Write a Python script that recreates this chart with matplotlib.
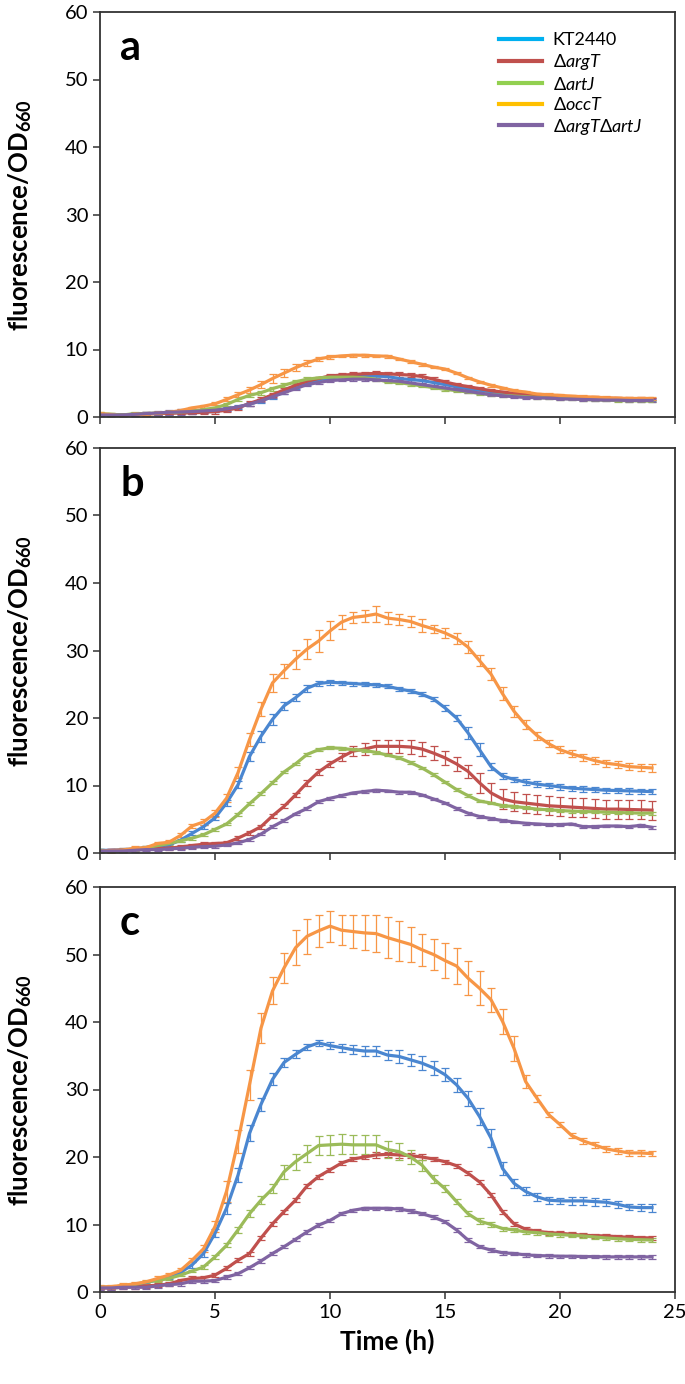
"""Fluorescence/OD660 time courses for KT2440 and transporter mutants (panels a-c)."""

import matplotlib
matplotlib.use("Agg")
import matplotlib.pyplot as plt
import numpy as np
from matplotlib.lines import Line2D

plt.rcParams["font.family"] = ["Lato", "DejaVu Sans"]
plt.rcParams["mathtext.fontset"] = "custom"
plt.rcParams["mathtext.rm"] = "Lato"
plt.rcParams["mathtext.it"] = "Lato:italic"
plt.rcParams["mathtext.bf"] = "Lato:bold"

# sampling every 0.5 h from 0 to 24 h
time_h = np.arange(49) * 0.5

strains = ["KT2440", r"$\Delta\mathit{argT}$", r"$\Delta\mathit{artJ}$",
           r"$\Delta\mathit{occT}$", r"$\Delta\mathit{argT}\Delta\mathit{artJ}$"]
line_colors = ["#4A86D0", "#C0504D", "#9BBB59", "#F79646", "#8064A2"]
legend_colors = ["#00B0F0", "#C0504D", "#92D050", "#FFC000", "#8064A2"]
panel_letters = ["a", "b", "c"]

# ---- panel a ----
a_kt2440 = [0.4, 0.3, 0.3, 0.4, 0.5, 0.5, 0.6, 0.7, 0.8, 0.9,
            1.0, 1.2, 1.5, 1.9, 2.4, 3.0, 3.7, 4.4, 5.0, 5.5,
            5.8, 6.0, 6.1, 6.1, 6.05, 6.0,
            5.7, 5.55, 5.4, 5.1, 4.8,
            4.5, 4.2, 3.95, 3.7,
            3.5, 3.3, 3.2, 3.1, 3.0, 2.9, 2.85, 2.8, 2.75, 2.7, 2.65, 2.6, 2.6, 2.6]
a_argT = [0.4, 0.3, 0.3, 0.4, 0.5, 0.5, 0.55, 0.6, 0.6, 0.7,
          0.8, 1.0, 1.35, 2.0, 2.6, 3.3, 4.0, 4.7, 5.3, 5.7,
          6.1, 6.2, 6.3, 6.4, 6.45, 6.4,
          6.3, 6.2, 6.0, 5.6, 5.2,
          4.8, 4.5, 4.2, 3.9,
          3.7, 3.5, 3.35, 3.2, 3.1, 3.0, 2.95, 2.9, 2.85, 2.8, 2.75, 2.7, 2.7, 2.65]
a_artJ = [0.5, 0.4, 0.3, 0.5, 0.5, 0.6, 0.7, 0.75, 0.85, 1.1,
          1.35, 1.85, 2.6, 3.2, 3.6, 4.2, 4.7, 5.2, 5.6, 5.8,
          5.9, 5.9, 5.9, 5.8, 5.6, 5.2,
          5.1, 4.85, 4.6, 4.35, 4.1,
          3.9, 3.7, 3.5, 3.3,
          3.2, 3.1, 3.0, 2.9, 2.8, 2.75, 2.7, 2.6, 2.55, 2.5, 2.45, 2.4, 2.4, 2.35]
a_occT = [0.5, 0.35, 0.1, 0.45, 0.35, 0.6, 0.7, 0.95, 1.35, 1.6,
          1.95, 2.6, 3.3, 4.0, 4.8, 5.7, 6.5, 7.3, 8.0, 8.6,
          8.9, 9.05, 9.15, 9.15, 9.05, 9.0,
          8.6, 8.2, 7.8, 7.4, 7.1,
          6.5, 5.8, 5.2, 4.7,
          4.3, 3.9, 3.7, 3.4, 3.3, 3.2, 3.1, 3.0, 2.95, 2.85, 2.8, 2.75, 2.75, 2.75]
a_double = [0.3, 0.3, 0.3, 0.4, 0.5, 0.6, 0.7, 0.75, 0.8, 0.9,
            1.0, 1.2, 1.5, 1.9, 2.4, 3.0, 3.6, 4.2, 4.8, 5.1,
            5.4, 5.5, 5.6, 5.6, 5.5, 5.4,
            5.3, 5.05, 4.8, 4.55, 4.3,
            4.05, 3.8, 3.55, 3.3,
            3.15, 3.0, 2.9, 2.85, 2.8, 2.7, 2.65, 2.6, 2.55, 2.5, 2.5, 2.45, 2.45, 2.45]

a_kt2440_err = [0.1, 0.1, 0.1, 0.2, 0.2, 0.2, 0.2, 0.3, 0.3, 0.3,
                0.3, 0.3, 0.3, 0.3, 0.3, 0.3, 0.3, 0.3, 0.3, 0.3,
                0.3, 0.3, 0.3, 0.3, 0.3, 0.3, 0.3, 0.3, 0.3, 0.3,
                0.3, 0.3, 0.2, 0.2, 0.2, 0.2, 0.2, 0.2, 0.2, 0.2,
                0.2, 0.2, 0.2, 0.2, 0.2, 0.2, 0.2, 0.2, 0.2]
a_argT_err = [0.2, 0.2, 0.2, 0.2, 0.2, 0.2, 0.2, 0.2, 0.2, 0.3,
              0.3, 0.3, 0.3, 0.3, 0.3, 0.3, 0.3, 0.3, 0.3, 0.3,
              0.3, 0.3, 0.3, 0.3, 0.3, 0.3, 0.3, 0.3, 0.3, 0.3,
              0.3, 0.3, 0.3, 0.2, 0.2, 0.2, 0.2, 0.2, 0.2, 0.2,
              0.2, 0.2, 0.2, 0.2, 0.2, 0.2, 0.2, 0.2, 0.2]
a_artJ_err = [0.2, 0.2, 0.2, 0.2, 0.2, 0.2, 0.2, 0.2, 0.2, 0.2,
              0.2, 0.2, 0.3, 0.3, 0.3, 0.3, 0.3, 0.3, 0.3, 0.2,
              0.2, 0.2, 0.2, 0.2, 0.2, 0.2, 0.2, 0.2, 0.2, 0.2,
              0.2, 0.2, 0.2, 0.2, 0.2, 0.2, 0.2, 0.2, 0.2, 0.2,
              0.2, 0.2, 0.2, 0.2, 0.2, 0.2, 0.2, 0.2, 0.2]
a_occT_err = [0.2, 0.2, 0.2, 0.2, 0.2, 0.2, 0.2, 0.2, 0.2, 0.2,
              0.2, 0.3, 0.4, 0.5, 0.5, 0.6, 0.6, 0.5, 0.4, 0.3,
              0.3, 0.2, 0.2, 0.2, 0.2, 0.2, 0.2, 0.2, 0.2, 0.2,
              0.2, 0.2, 0.2, 0.2, 0.2, 0.2, 0.2, 0.2, 0.2, 0.2,
              0.2, 0.2, 0.2, 0.2, 0.2, 0.2, 0.2, 0.2, 0.2]
a_double_err = [0.2, 0.2, 0.2, 0.2, 0.2, 0.3, 0.4, 0.5, 0.3, 0.3,
                0.3, 0.3, 0.2, 0.2, 0.2, 0.2, 0.2, 0.2, 0.2, 0.2,
                0.2, 0.2, 0.2, 0.2, 0.2, 0.2, 0.2, 0.2, 0.2, 0.2,
                0.2, 0.2, 0.2, 0.2, 0.2, 0.2, 0.2, 0.2, 0.2, 0.2,
                0.2, 0.2, 0.2, 0.2, 0.2, 0.2, 0.2, 0.2, 0.2]

# ---- panel b ----
b_kt2440 = [0.4, 0.4, 0.5, 0.6, 0.8, 1.0, 1.2, 1.9, 2.9, 3.9,
            5.2, 7.4, 10.1, 14.3, 17.3, 19.8, 21.8, 23.0, 24.4, 25.1,
            25.3, 25.2, 25.1, 25.0, 24.9, 24.7,
            24.3, 24.0, 23.5, 22.8, 21.5,
            20.0, 17.8, 15.3, 12.8,
            11.4, 10.9, 10.5, 10.2, 10.0, 9.8, 9.6, 9.5, 9.4, 9.3, 9.25, 9.2, 9.15, 9.1]
b_argT = [0.3, 0.4, 0.4, 0.5, 0.7, 0.7, 0.7, 0.9, 1.1, 1.3,
          1.4, 1.5, 2.2, 3.0, 3.9, 5.5, 6.9, 8.6, 10.4, 12.0,
          13.2, 14.2, 15.1, 15.4, 15.8, 15.8,
          15.8, 15.7, 15.4, 14.8, 14.1,
          13.2, 12.1, 10.4, 8.9,
          8.0, 7.6, 7.4, 7.2, 7.0, 6.9, 6.8, 6.7, 6.6, 6.5, 6.5, 6.45, 6.4, 6.35]
b_artJ = [0.4, 0.3, 0.3, 0.5, 0.8, 1.1, 1.4, 1.8, 2.2, 2.7,
          3.5, 4.3, 5.7, 7.3, 8.8, 10.4, 12.0, 13.2, 14.6, 15.3,
          15.6, 15.5, 15.3, 15.2, 14.9, 14.5,
          14.1, 13.4, 12.6, 11.6, 10.5,
          9.4, 8.5, 7.7, 7.4,
          7.0, 6.9, 6.7, 6.5, 6.4, 6.3, 6.2, 6.15, 6.1, 6.05, 6.0, 5.95, 5.9, 5.9]
b_occT = [0.3, 0.35, 0.45, 0.7, 0.8, 1.4, 1.6, 2.6, 4.0, 4.6,
          5.9, 8.1, 11.9, 16.8, 21.3, 25.2, 27.0, 28.7, 30.2, 31.4,
          32.9, 34.2, 34.9, 35.1, 35.4, 34.8,
          34.6, 34.3, 33.7, 33.2, 32.6,
          31.8, 30.5, 28.5, 26.5,
          23.6, 21.0, 19.0, 17.4, 16.2, 15.3, 14.7, 14.2, 13.7, 13.3, 13.1, 12.8, 12.7, 12.6]
b_double = [0.3, 0.3, 0.3, 0.4, 0.5, 0.5, 0.6, 0.7, 0.85, 0.95,
            1.0, 1.2, 1.5, 2.0, 2.8, 3.9, 4.8, 5.8, 6.6, 7.6,
            8.1, 8.5, 8.9, 9.1, 9.3, 9.2,
            9.0, 9.0, 8.6, 8.0, 7.4,
            6.6, 5.9, 5.4, 5.1,
            4.8, 4.6, 4.4, 4.3, 4.2, 4.2, 4.3, 3.9, 3.9, 4.0, 4.0, 3.9, 4.1, 3.8]

b_kt2440_err = [0.2, 0.2, 0.2, 0.2, 0.2, 0.2, 0.2, 0.2, 0.3, 0.3,
                0.3, 0.4, 0.5, 0.6, 0.8, 0.8, 0.6, 0.5, 0.5, 0.4,
                0.4, 0.3, 0.3, 0.3, 0.3, 0.3, 0.3, 0.3, 0.3, 0.3,
                0.4, 0.5, 0.9, 1.0, 0.5, 0.4, 0.4, 0.4, 0.4, 0.4,
                0.4, 0.4, 0.4, 0.4, 0.4, 0.4, 0.4, 0.4, 0.4]
b_argT_err = [0.2, 0.2, 0.2, 0.2, 0.2, 0.3, 0.3, 0.3, 0.3, 0.3,
              0.3, 0.3, 0.3, 0.3, 0.3, 0.3, 0.3, 0.3, 0.4, 0.4,
              0.5, 0.6, 0.8, 0.9, 0.9, 1.0,
              1.0, 1.0, 1.0, 1.0, 1.0,
              1.0, 1.0, 1.5, 1.5,
              1.5, 1.4, 1.4, 1.4, 1.4, 1.4, 1.4, 1.4, 1.4, 1.4, 1.4, 1.4, 1.4, 1.4]
b_artJ_err = [0.2, 0.2, 0.2, 0.2, 0.2, 0.2, 0.2, 0.2, 0.2, 0.2,
              0.2, 0.2, 0.2, 0.2, 0.2, 0.2, 0.2, 0.2, 0.2, 0.2,
              0.2, 0.2, 0.2, 0.2, 0.2, 0.2, 0.2, 0.2, 0.2, 0.2,
              0.2, 0.2, 0.2, 0.2, 0.2, 0.2, 0.2, 0.2, 0.2, 0.2,
              0.2, 0.2, 0.2, 0.2, 0.2, 0.2, 0.2, 0.2, 0.2]
b_occT_err = [0.2, 0.3, 0.3, 0.3, 0.3, 0.3, 0.3, 0.3, 0.3, 0.4,
              0.5, 0.6, 0.8, 1.0, 1.0, 1.3, 1.0, 1.4, 1.5, 1.6,
              1.4, 1.0, 0.8, 0.9, 1.2, 0.9,
              0.8, 0.8, 0.9, 0.6, 0.7,
              0.8, 0.9, 0.8, 0.9,
              1.0, 0.8, 0.7, 0.6, 0.5, 0.5, 0.5, 0.5, 0.5, 0.5, 0.5, 0.5, 0.5, 0.6]
b_double_err = [0.2, 0.2, 0.2, 0.2, 0.2, 0.2, 0.2, 0.2, 0.2, 0.2,
                0.2, 0.2, 0.2, 0.2, 0.2, 0.2, 0.2, 0.2, 0.2, 0.2,
                0.2, 0.2, 0.2, 0.2, 0.2, 0.2, 0.2, 0.2, 0.2, 0.2,
                0.2, 0.2, 0.2, 0.2, 0.2, 0.2, 0.2, 0.2, 0.2, 0.2,
                0.2, 0.2, 0.2, 0.2, 0.2, 0.2, 0.2, 0.2, 0.2]

# ---- panel c ----
c_kt2440 = [0.7, 0.7, 0.9, 1.1, 1.4, 1.8, 2.2, 2.9, 4.0, 5.7,
            8.7, 12.4, 17.3, 23.5, 27.8, 31.5, 34.0, 35.2, 36.3, 36.9,
            36.5, 36.2, 35.9, 35.7, 35.7, 35.1,
            34.9, 34.4, 33.9, 33.2, 32.2,
            30.7, 28.7, 26.0, 22.8,
            18.3, 16.1, 14.9, 14.1, 13.6, 13.5, 13.5, 13.5, 13.4, 13.3, 13.0, 12.6, 12.5, 12.5]
c_argT = [0.6, 0.6, 0.7, 0.8, 0.9, 1.0, 1.2, 1.7, 2.0, 2.1,
          2.5, 3.5, 4.7, 5.7, 8.0, 10.1, 11.9, 13.6, 15.7, 17.1,
          18.1, 19.1, 19.7, 20.0, 20.3, 20.4,
          20.3, 20.2, 20.0, 19.7, 19.3,
          18.7, 17.6, 16.3, 14.4,
          11.9, 10.1, 9.3, 9.0, 8.8, 8.7, 8.55, 8.4, 8.35, 8.3, 8.2, 8.1, 8.05, 8.0]
c_artJ = [0.7, 0.7, 0.9, 1.1, 1.5, 1.7, 2.0, 2.5, 3.1, 3.7,
          5.2, 6.9, 9.2, 11.6, 13.6, 15.3, 17.8, 19.3, 20.5, 21.7,
          21.8, 21.9, 21.8, 21.8, 21.8, 21.1,
          20.8, 20.0, 18.8, 16.8, 15.3,
          13.4, 11.6, 10.5, 10.0,
          9.4, 9.2, 8.9, 8.8, 8.6, 8.5, 8.4, 8.3, 8.15, 8.0, 7.9, 7.8, 7.75, 7.7]
c_occT = [0.75, 0.8, 1.0, 1.2, 1.5, 2.0, 2.5, 3.2, 4.7, 6.4,
          9.7, 14.9, 22.3, 30.7, 39.1, 44.6, 48.0, 51.0, 52.7, 53.5,
          54.2, 53.6, 53.4, 53.2, 53.1, 52.5,
          52.0, 51.5, 50.7, 50.0, 49.1,
          48.3, 46.5, 45.0, 43.3,
          40.1, 36.1, 31.2, 28.7, 26.3, 24.8, 23.2, 22.4, 21.8, 21.2, 20.9, 20.6, 20.6, 20.5]
c_double = [0.6, 0.6, 0.7, 0.7, 0.7, 0.9, 1.1, 1.2, 1.6, 1.6,
            1.7, 2.2, 2.7, 3.6, 4.6, 5.7, 6.7, 7.8, 8.9, 9.9,
            10.6, 11.6, 12.1, 12.4, 12.4, 12.4,
            12.3, 12.0, 11.6, 11.1, 10.4,
            9.2, 7.7, 6.7, 6.2,
            5.8, 5.7, 5.5, 5.4, 5.35, 5.3, 5.3, 5.25, 5.25, 5.2, 5.2, 5.2, 5.2, 5.2]

c_kt2440_err = [0.2, 0.2, 0.2, 0.2, 0.2, 0.2, 0.3, 0.3, 0.4, 0.5,
                0.6, 0.8, 1.0, 1.2, 1.0, 0.9, 0.7, 0.6, 0.5, 0.5,
                0.5, 0.6, 0.7, 0.8, 0.8, 0.8,
                0.9, 0.9, 1.0, 1.0, 1.0,
                1.0, 1.1, 1.3, 1.3,
                1.0, 0.7, 0.6, 0.6, 0.5, 0.5, 0.6, 0.6, 0.6, 0.5, 0.5, 0.5, 0.5, 0.6]
c_argT_err = [0.3, 0.3, 0.3, 0.3, 0.3, 0.3, 0.3, 0.3, 0.3, 0.3,
              0.3, 0.3, 0.3, 0.3, 0.3, 0.3, 0.3, 0.3, 0.3, 0.3,
              0.3, 0.3, 0.3, 0.3, 0.4, 0.4, 0.4, 0.4, 0.4, 0.3,
              0.3, 0.3, 0.3, 0.3, 0.3, 0.3, 0.3, 0.3, 0.3, 0.3,
              0.3, 0.3, 0.3, 0.3, 0.3, 0.3, 0.3, 0.3, 0.3]
c_artJ_err = [0.2, 0.2, 0.2, 0.2, 0.2, 0.2, 0.2, 0.2, 0.2, 0.3,
              0.3, 0.3, 0.4, 0.5, 0.6, 0.7, 1.0, 1.2, 1.3, 1.4,
              1.5, 1.5, 1.4, 1.4, 1.4, 1.3,
              1.3, 1.0, 0.8, 0.6, 0.5,
              0.4, 0.4, 0.4, 0.3,
              0.3, 0.3, 0.3, 0.3, 0.3, 0.3, 0.3, 0.3, 0.3, 0.3, 0.3, 0.3, 0.3, 0.3]
c_occT_err = [0.3, 0.3, 0.3, 0.3, 0.3, 0.3, 0.3, 0.3, 0.3, 0.5,
              0.8, 1.5, 1.7, 2.2, 2.2, 2.0, 2.2, 2.6, 2.6, 2.4,
              2.3, 2.2, 2.4, 2.6, 2.8, 3.0,
              2.9, 2.6, 2.4, 2.3, 2.6,
              2.7, 2.5, 2.5, 1.8,
              1.9, 1.9, 1.0, 0.5, 0.4, 0.4, 0.4, 0.4, 0.4, 0.4, 0.4, 0.4, 0.4, 0.4]
c_double_err = [0.25, 0.25, 0.25, 0.25, 0.25, 0.25, 0.25, 0.25, 0.25, 0.25,
                0.25, 0.25, 0.25, 0.25, 0.25, 0.25, 0.25, 0.25, 0.25, 0.25,
                0.25, 0.25, 0.25, 0.25, 0.25, 0.25, 0.25, 0.25, 0.25, 0.25,
                0.25, 0.25, 0.25, 0.25, 0.25, 0.25, 0.25, 0.25, 0.25, 0.25,
                0.25, 0.25, 0.25, 0.25, 0.25, 0.25, 0.25, 0.25, 0.25]

panels = [
    ([a_kt2440, a_argT, a_artJ, a_occT, a_double],
     [a_kt2440_err, a_argT_err, a_artJ_err, a_occT_err, a_double_err]),
    ([b_kt2440, b_argT, b_artJ, b_occT, b_double],
     [b_kt2440_err, b_argT_err, b_artJ_err, b_occT_err, b_double_err]),
    ([c_kt2440, c_argT, c_artJ, c_occT, c_double],
     [c_kt2440_err, c_argT_err, c_artJ_err, c_occT_err, c_double_err]),
]

fig = plt.figure(figsize=(6.85, 13.84), dpi=100)
ax_left, ax_width, ax_height = 100 / 685, 575 / 685, 405 / 1384
ax_bottoms = [967 / 1384, 531 / 1384, 92 / 1384]

for idx, (series, errors) in enumerate(panels):
    ax = fig.add_axes([ax_left, ax_bottoms[idx], ax_width, ax_height])
    for values, err, color in zip(series, errors, line_colors):
        ax.errorbar(time_h, values, yerr=err, color=color, lw=2.3,
                    elinewidth=0.9, capsize=2.6, capthick=0.9)

    ax.set_xlim(0, 25)
    ax.set_ylim(0, 60)
    ax.set_xticks(range(0, 26, 5))
    ax.set_yticks(range(0, 61, 10))
    ax.tick_params(direction="out", length=5, width=1.1, labelsize=14.5, color="#333333")
    for spine in ax.spines.values():
        spine.set_linewidth(1.3)
        spine.set_color("#333333")
    if idx < 2:
        ax.tick_params(labelbottom=False)
    else:
        ax.set_xlabel("Time (h)", fontsize=19, fontweight="bold", labelpad=6)

    ax.set_ylabel(r"fluorescence/OD$_{\mathbf{660}}$", fontsize=18.5, fontweight="bold")
    ax.yaxis.set_label_coords(-0.115, 0.5)
    ax.text(0.035, 0.882, panel_letters[idx], transform=ax.transAxes,
            fontsize=30, fontweight="bold", va="baseline")

    if idx == 0:
        handles = [Line2D([], [], color=c, lw=3) for c in legend_colors]
        ax.legend(handles, strains, loc="upper left", bbox_to_anchor=(0.665, 0.99),
                  frameon=False, fontsize=13, handlelength=2.4,
                  labelspacing=0.2, handletextpad=0.6)

fig.savefig("out.png", dpi=100)
